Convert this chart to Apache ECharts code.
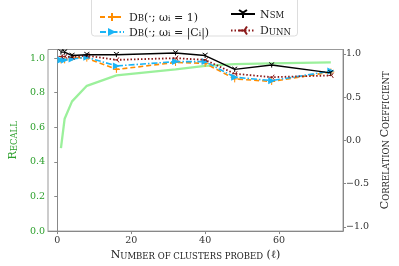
<!DOCTYPE html>
<html><head><meta charset="utf-8">
<script src="https://cdn.jsdelivr.net/npm/echarts@6/dist/echarts.min.js"></script>
<style>html,body{margin:0;padding:0;background:#fff}#c{width:399px;height:266px}</style>
</head><body><div id="c"></div>
<script>
const xValues = [1, 2, 4, 8, 16, 32, 40, 48, 58, 74];
const recall = [0.48, 0.65, 0.75, 0.84, 0.90, 0.935, 0.955, 0.965, 0.97, 0.975];
const db1 = [0.93, 0.93, 0.96, 0.95, 0.82, 0.90, 0.89, 0.71, 0.68, 0.79];
const dbC = [0.93, 0.93, 0.94, 0.96, 0.86, 0.91, 0.91, 0.73, 0.69, 0.80];
const nsm = [1.02, 1.02, 0.98, 0.99, 0.99, 1.01, 0.98, 0.82, 0.87, 0.78];
const dunn = [0.97, 0.97, 0.96, 0.98, 0.93, 0.95, 0.93, 0.77, 0.73, 0.75];
const xTicks = [0, 20, 40, 60];
const leftTicks = [0, 0.2, 0.4, 0.6, 0.8, 1.0];
const rightTicks = [-1, -0.5, 0, 0.5, 1];

const F = 'DejaVu Serif';
const pair = a => xValues.map((x, i) => [x, a[i]]);
const rich = {
  A: {fontFamily: F, fontSize: 11, color: '#222', verticalAlign: 'bottom', lineHeight: 13},
  b: {fontFamily: F, fontSize: 8.5, color: '#222', verticalAlign: 'bottom', lineHeight: 12},
  c: {fontFamily: F, fontSize: 11, color: '#222', verticalAlign: 'bottom', lineHeight: 13},
  s: {fontFamily: F, fontSize: 7.5, color: '#222', verticalAlign: 'bottom', lineHeight: 10}
};
const legendNames = {
  Db1: '{A|D}{b|B}{c|(·; ω}{s|i}{c| = 1)}',
  DbC: '{A|D}{b|B}{c|(·; ω}{s|i}{c| = |C}{s|i}{c||)}',
  Nsm: '{A|N}{b|SM}',
  Dunn: '{A|D}{b|UNN}'
};
const chart = echarts.init(document.getElementById('c'));
const axisLine = {show: true, lineStyle: {color: '#888', width: 1}};
chart.setOption({
  animation: false,
  grid: {left: 30, right: 38, top: 49.5, bottom: 27.5, show: true, borderColor: '#999', borderWidth: 1},
  graphic: [{type: 'rect', shape: {x: 91.5, y: -4, width: 206, height: 40, r: 3},
    style: {fill: 'rgba(255,255,255,0.8)', stroke: '#ddd', lineWidth: 1}, z: 100}],
  legend: [
    {data: ['Db1', 'DbC'], orient: 'vertical', left: 94, top: 7, itemWidth: 24, itemHeight: 10, itemGap: 4,
     formatter: n => legendNames[n], textStyle: {rich: rich}, z: 101},
    {data: ['Nsm', 'Dunn'], orient: 'vertical', left: 225, top: 4, itemWidth: 24, itemHeight: 10, itemGap: 5,
     formatter: n => legendNames[n], textStyle: {rich: rich}, z: 101}
  ],
  xAxis: {type: 'value', min: -2.5, max: 77.3,
    name: '{A|N}{b|UMBER OF CLUSTERS PROBED}{c| (ℓ)}', nameLocation: 'middle', nameGap: 16,
    nameTextStyle: {rich: rich},
    axisLine: axisLine, splitLine: {show: false},
    axisTick: {show: true, customValues: xTicks, length: 3, lineStyle: {color: '#888'}},
    axisLabel: {customValues: xTicks, fontFamily: F, fontSize: 9.5, color: '#333', margin: 4}},
  yAxis: [
    {type: 'value', min: 0, max: 1.05, position: 'left',
     name: '{A|R}{b|ECALL}', nameLocation: 'middle', nameGap: 20,
     nameTextStyle: {rich: {A: Object.assign({}, rich.A, {color: '#2ca02c'}), b: Object.assign({}, rich.b, {color: '#2ca02c'})}},
     axisLine: axisLine, splitLine: {show: false},
     axisTick: {show: true, customValues: leftTicks, length: 3, lineStyle: {color: '#888'}},
     axisLabel: {customValues: leftTicks, formatter: v => v.toFixed(1), fontFamily: F, fontSize: 9.5, color: '#2ca02c', margin: 3}},
    {type: 'value', min: -1.05, max: 1.05, position: 'right',
     name: '{A|C}{b|ORRELATION }{A|C}{b|OEFFICIENT}', nameLocation: 'middle', nameGap: 29, nameRotate: 90,
     nameTextStyle: {rich: rich},
     axisLine: axisLine, splitLine: {show: false},
     axisTick: {show: true, customValues: rightTicks, length: 3, lineStyle: {color: '#888'}},
     axisLabel: {customValues: rightTicks, formatter: v => (v < 0 ? '−' : '') + Math.abs(v).toFixed(1), fontFamily: F, fontSize: 9.5, color: '#333', margin: 3}}
  ],
  series: [
    {name: 'Recall', type: 'line', yAxisIndex: 0, data: pair(recall), showSymbol: false, symbol: 'none',
     lineStyle: {color: '#90ee90', width: 2.3, opacity: 0.9}, z: 1},
    {name: 'Db1', type: 'line', yAxisIndex: 1, data: pair(db1), symbol: 'path://M0,-10L0,10M-10,0L10,0', symbolSize: 7,
     itemStyle: {color: 'transparent', borderColor: '#ff8c00', borderWidth: 1},
     lineStyle: {color: '#ff8c00', width: 1.6, type: [5, 3]}, z: 2},
    {name: 'DbC', type: 'line', yAxisIndex: 1, data: pair(dbC), symbol: 'path://M0,0L10,5L0,10Z', symbolSize: 7,
     itemStyle: {color: '#1ab4f5'},
     lineStyle: {color: '#1ab4f5', width: 1.6, type: [6, 2, 1.5, 2]}, z: 3},
    {name: 'Dunn', type: 'line', yAxisIndex: 1, data: pair(dunn), symbol: 'path://M0,0L-10,0M0,0L5,-8.66M0,0L5,8.66', symbolSize: 5,
     itemStyle: {color: 'transparent', borderColor: '#8b1a1a', borderWidth: 1},
     lineStyle: {color: '#8b1a1a', width: 1.8, type: [1.5, 2]}, z: 4},
    {name: 'Nsm', type: 'line', yAxisIndex: 1, data: pair(nsm), symbol: 'path://M0,0L0,10M0,0L-8.66,-5M0,0L8.66,-5', symbolSize: 5,
     itemStyle: {color: 'transparent', borderColor: '#000', borderWidth: 1},
     lineStyle: {color: '#000', width: 1.4}, z: 5}
  ]
});
</script></body></html>
